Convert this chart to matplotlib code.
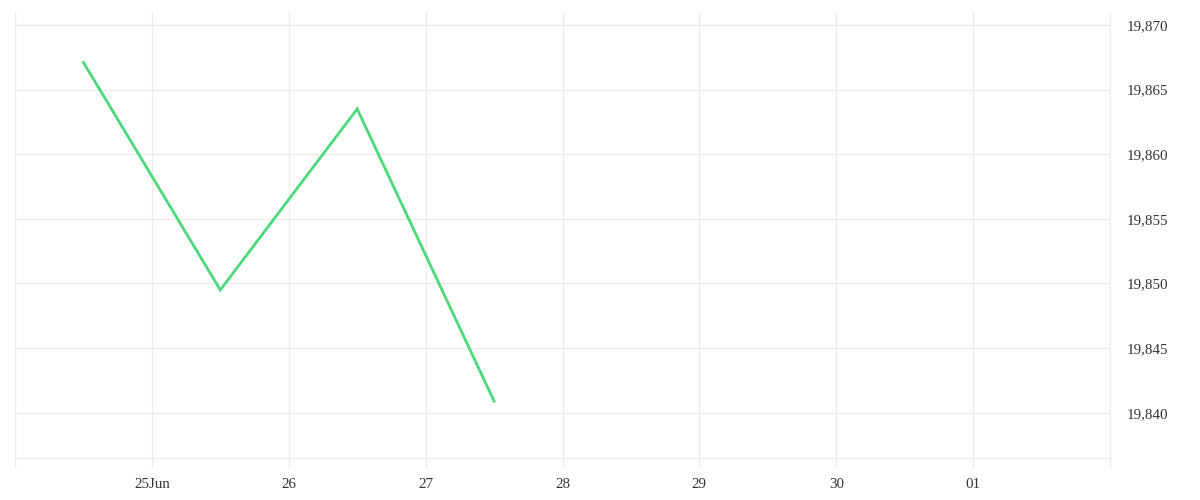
import matplotlib
matplotlib.use("Agg")
import matplotlib.pyplot as plt
import matplotlib.dates as mdates
from datetime import datetime

# data (points sit at midday)
times = [datetime(2024, 6, 24, 12), datetime(2024, 6, 25, 12),
         datetime(2024, 6, 26, 12), datetime(2024, 6, 27, 12)]
values = [19867.1, 19849.5, 19863.5, 19840.9]

tick_days = [datetime(2024, 6, 25), datetime(2024, 6, 26), datetime(2024, 6, 27),
             datetime(2024, 6, 28), datetime(2024, 6, 29), datetime(2024, 6, 30),
             datetime(2024, 7, 1)]
tick_labels = ["25Jun", "26", "27", "28", "29", "30", "01"]
y_ticks = [19840, 19845, 19850, 19855, 19860, 19865, 19870]

grid_col = "#ebebeb"
text_col = "#333333"
plt.rcParams['font.family'] = ['Liberation Serif', 'DejaVu Serif']

fig = plt.figure(figsize=(12, 5), dpi=100)
ax = fig.add_axes([15 / 1200, 42 / 500, 1095 / 1200, 446 / 500])

ax.plot(times, values, color="#4cd97b", lw=2.0, solid_joinstyle="miter", zorder=3)

x0, x1 = datetime(2024, 6, 24), datetime(2024, 7, 2)
ax.set_xlim(x0, x1)
ax.set_ylim(19836.5, 19871.0)

ax.set_xticks([mdates.date2num(d) for d in [x0] + tick_days + [x1]])
ax.set_xticklabels([""] + tick_labels + [""])
ax.set_yticks(y_ticks)
ax.set_yticklabels([f"{v:,}" for v in y_ticks])

ax.yaxis.tick_right()
ax.tick_params(axis="y", length=0, pad=12, labelsize=10.8, labelcolor=text_col)
ax.tick_params(axis="x", length=7.5, width=1, color=grid_col, pad=7,
               labelsize=10.8, labelcolor=text_col)

ax.grid(True, color=grid_col, lw=1)
ax.set_axisbelow(True)
for s in ["left", "right", "bottom"]:
    ax.spines[s].set_color(grid_col)
ax.spines["top"].set_visible(False)

fig.savefig("out.png", dpi=100)
